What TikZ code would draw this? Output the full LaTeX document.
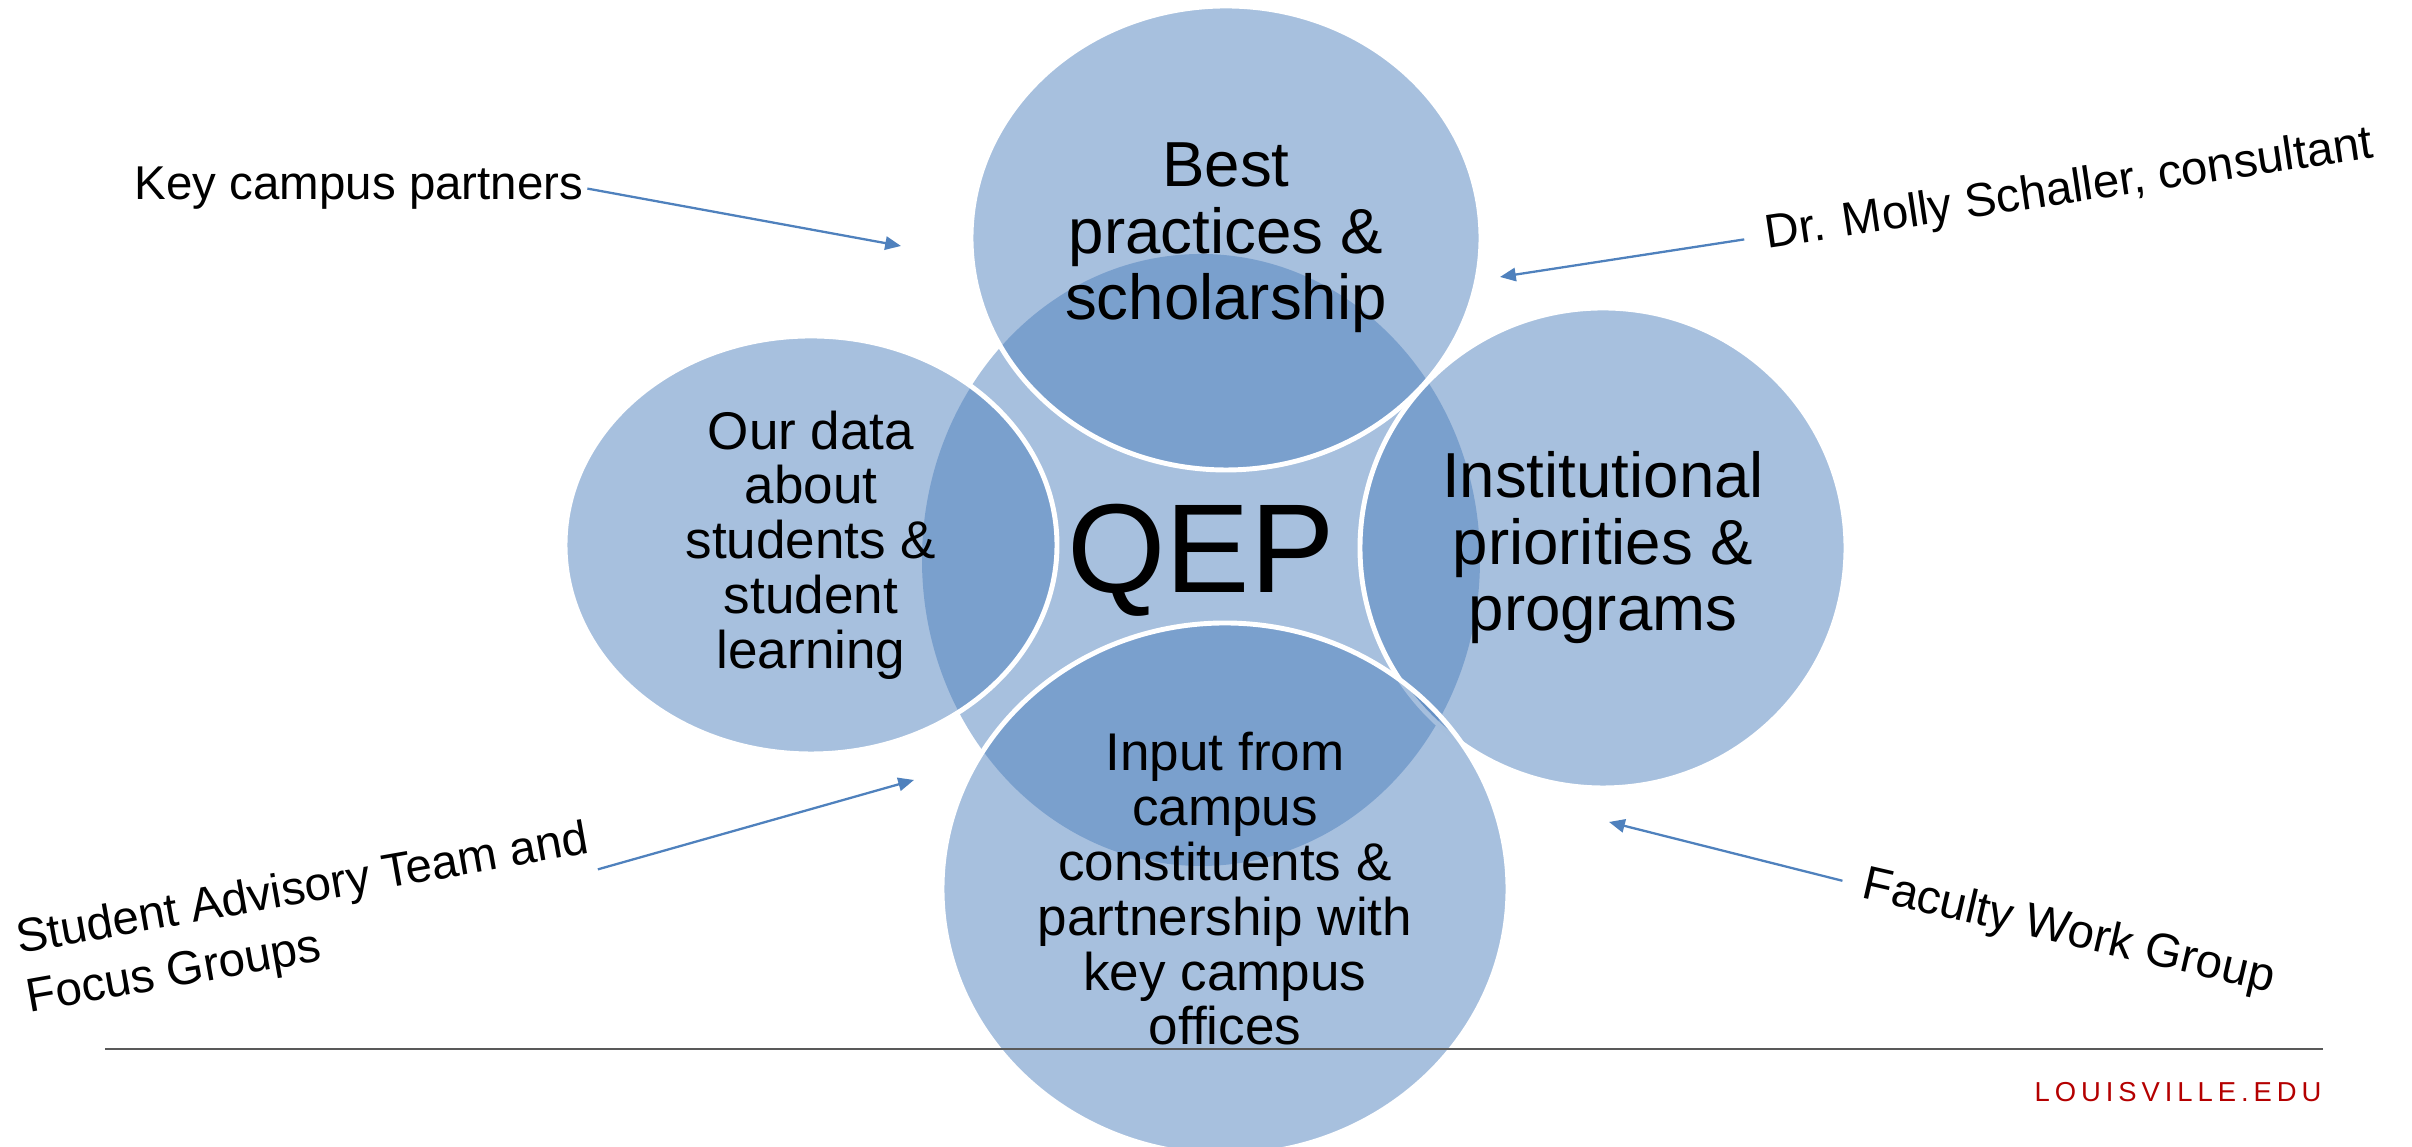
\documentclass[tikz,border=0pt]{standalone}
\usepackage{fontspec}
\setmainfont{Liberation Sans}
\usetikzlibrary{shapes.geometric,arrows.meta}

\definecolor{qepblue}{RGB}{79,129,189}
\definecolor{edured}{RGB}{180,0,0}
\definecolor{rulegray}{RGB}{89,89,89}

\tikzset{
    bubble/.style={ellipse, fill=qepblue, fill opacity=0.5, text opacity=1, draw=white, line width=1.4pt, inner sep=0pt, align=center},
    bigtext/.style={font=\fontsize{18.1}{18.9}\selectfont},
    smalltext/.style={font=\fontsize{15.1}{15.6}\selectfont},
    sidelabel/.style={font=\fontsize{13.5}{17}\selectfont, inner sep=1pt},
    pointer/.style={draw=qepblue, line width=0.65pt, -{Triangle[length=4.5pt,width=3.8pt]}}
}

\begin{document}
\begin{tikzpicture}[scale=1]
        \useasboundingbox (0,0) rectangle (24.12,11.47);

        \node[bubble, draw=none, minimum width=5.58cm, minimum height=6.12cm, font=\fontsize{36}{40}\selectfont] (hub) at (12.01, 5.87) {QEP};

        \node[bubble, bigtext, minimum width=5.10cm, minimum height=4.64cm] (best) at (12.26, 9.09) {Best\\practices \&\\scholarship};
        \node[bubble, smalltext, minimum width=4.92cm, minimum height=4.18cm] (data) at (8.11, 6.02) {Our data\\about\\students \&\\student\\learning};
        \node[bubble, bigtext, minimum width=4.86cm, minimum height=4.80cm] (inst) at (16.03, 5.99) {Institutional\\priorities \&\\programs};
        \node[bubble, smalltext, minimum width=5.66cm, minimum height=5.32cm] (input) at (12.25, 2.58) {Input from\\campus\\constituents \&\\partnership with\\key campus\\offices};

        \node[sidelabel, anchor=base] (key) at (3.59, 9.47) {Key campus partners};
        \node[sidelabel, anchor=base, rotate=8.5, inner xsep=6pt] (molly) at (20.71, 9.44) {Dr. Molly Schaller, consultant};
        \node[sidelabel, align=left, rotate=10] (stud) at (3.08, 2.265) {Student Advisory Team and\\Focus Groups};
        \node[sidelabel, anchor=base, rotate=-13, inner xsep=6pt] (fac) at (20.66, 2.02) {Faculty Work Group};

        \coordinate (keytip) at (9.01, 9.01);
        \coordinate (mollytip) at (15.00, 8.70);
        \coordinate (studtip) at (9.14, 3.67);
        \coordinate (factip) at (16.09, 3.25);

        \draw[pointer] (key.east) -- (keytip);
        \draw[pointer] (molly.west) -- (mollytip);
        \draw[pointer] (stud.east) -- (studtip);
        \draw[pointer] (fac.west) -- (factip);

        \draw[rulegray, line width=0.6pt] (1.05, 0.98) -- (23.23, 0.98);
        \node[anchor=base east, inner sep=0pt, text=edured, font=\fontsize{7.8}{9}\selectfont\addfontfeature{LetterSpace=18}] (site) at (23.22, 0.45) {LOUISVILLE.EDU};
\end{tikzpicture}
\end{document}
